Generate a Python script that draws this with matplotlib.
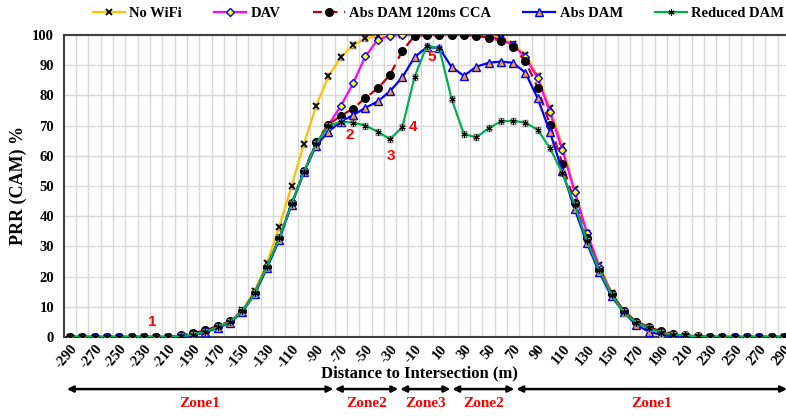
import numpy as np
import matplotlib.pyplot as plt
import matplotlib.transforms as mtransforms

# Distance categories (m)
dist = list(range(-290, 300, 10))

no_wifi = [0, 0, 0, 0, 0, 0, 0, 0, 0,
           0.4, 1.0, 1.8, 3.4, 5.1, 8.8, 15.2, 24.4, 36.5, 50.0, 63.9,
           76.5, 86.4, 92.6, 96.6, 98.9, 99.6, 100, 100, 100, 100,
           100, 100, 100, 100, 99.8, 99.0, 97.0, 93.5, 86.5, 75.8,
           63.4, 48.9, 34.3, 23.8, 14.7, 8.6, 5.1, 2.9, 1.6, 0.7,
           0.3, 0, 0, 0, 0, 0, 0, 0, 0]

dav = [0, 0, 0, 0, 0, 0, 0, 0, 0,
       0.3, 0.8, 1.7, 3.2, 4.9, 8.5, 14.5, 23.3, 32.7, 44.0, 54.7,
       64.2, 70.2, 76.5, 84.0, 93.0, 98.4, 99.8, 100, 100, 100,
       100, 100, 100, 99.9, 99.5, 98.6, 96.6, 92.6, 85.7, 74.4,
       62.0, 48.0, 34.5, 23.2, 14.3, 8.4, 4.9, 2.9, 1.5, 0.7,
       0.3, 0, 0, 0, 0, 0, 0, 0, 0]

abs_dam_cca = [0, 0, 0, 0, 0, 0, 0, 0, 0,
               0.5, 1.2, 2.2, 3.6, 5.2, 8.6, 14.6, 23.3, 32.7, 44.2, 54.8,
               64.7, 70.3, 73.3, 75.6, 79.2, 82.3, 86.8, 94.8, 99.7, 100,
               100, 100, 100, 99.8, 99.1, 98.1, 96.1, 91.3, 82.5, 70.2,
               57.4, 44.3, 32.7, 22.2, 14.2, 8.6, 5.1, 3.3, 1.9, 1.1,
               0.5, 0.2, 0, 0, 0, 0, 0, 0, 0]

abs_dam = [0, 0, 0, 0, 0, 0, 0, 0, 0,
           0.2, 0.6, 1.5, 3.0, 4.7, 8.3, 14.2, 22.8, 32.2, 43.8, 54.5,
           63.4, 68.0, 71.3, 73.5, 75.9, 78.0, 81.4, 86.0, 92.7, 96.0,
           95.7, 89.4, 86.5, 89.5, 90.8, 91.2, 90.8, 87.5, 79.0, 67.8,
           54.8, 42.4, 31.0, 21.4, 13.4, 8.1, 4.0, 1.8, 0.7, 0.2,
           0, 0, 0, 0, 0, 0, 0, 0, 0]

reduced_dam = [0, 0, 0, 0, 0, 0, 0, 0, 0,
               0.3, 0.8, 1.7, 3.2, 5.0, 8.5, 14.5, 23.3, 32.7, 44.0, 54.7,
               64.0, 69.9, 71.3, 71.0, 70.0, 68.0, 65.5, 69.5, 86.2, 96.5,
               95.6, 78.9, 67.2, 66.1, 69.1, 71.4, 71.6, 71.0, 68.6, 62.5,
               54.2, 43.8, 31.8, 22.2, 13.9, 8.1, 4.7, 2.9, 1.4, 0.8,
               0.5, 0.2, 0, 0, 0, 0, 0, 0, 0]

# numbered points of interest
marks = ['1', '2', '3', '4', '5']
mark_x = [-223, -63, -29, -11, 3.5]
mark_y = [5, 67, 60, 69.5, 92.7]

# zones along the road
zone_names = ['Zone1', 'Zone2', 'Zone3', 'Zone2', 'Zone1']
zone_start = [-292.5, -74.8, -21.7, 20.6, 72.6]
zone_end = [-76.0, -23.3, 19.0, 71.0, 292.5]

serif = 'Liberation Serif'
plt.rcParams['font.family'] = serif
plt.rcParams['font.weight'] = 'bold'

fig = plt.figure(figsize=(7.86, 4.17), dpi=100)
ax = fig.add_axes([0.0812, 0.192, 0.924, 0.724])

x = np.array(dist)
err = 1.0  # small std error bars shown in the original

def caps(vals):
    v = np.array(vals, dtype=float)
    return np.where((v > 0) & (v < 100), err, 0.0)

ax.errorbar(x, no_wifi, yerr=caps(no_wifi), fmt='none', ecolor='#8c8c8c',
            elinewidth=0.8, capsize=2, zorder=2)
ax.plot(x, no_wifi, color='#FFC000', lw=1.6, marker='x', ms=4.5, mec='black',
        mew=1.3, label='No WiFi', zorder=3)
ax.plot(x, dav, color='#FF00FF', lw=1.6, marker='D', ms=4.5, mfc='#FFFF00',
        mec='#0000FF', mew=1.0, label='DAV', zorder=4)
ax.plot(x, abs_dam_cca, color='#C00000', lw=1.6, ls=(0, (4, 3)), marker='o',
        ms=5.5, mfc='black', mec='black', label='Abs DAM 120ms CCA', zorder=5)
ax.plot(x, abs_dam, color='#0000FF', lw=1.6, marker='^', ms=5.5, mfc='#F0A020',
        mec='#0000FF', mew=1.0, label='Abs DAM', zorder=6)
ax.errorbar(x, reduced_dam, yerr=caps(reduced_dam), fmt='none', ecolor='#8c8c8c',
            elinewidth=0.8, capsize=2, zorder=6)
ax.plot(x, reduced_dam, color='#00B050', lw=1.6, marker=(6, 2, 0), ms=4.5,
        mec='black', mew=0.8, label='Reduced DAM', zorder=7)

for t, tx, ty in zip(marks, mark_x, mark_y):
    ax.text(tx, ty, t, color='#FF0000', fontsize=11, fontweight='bold',
            family='Liberation Sans', ha='center', va='center', zorder=8)

ax.set_xlim(-295, 295)
ax.set_ylim(0, 100)
ax.set_yticks(range(0, 101, 10))
ax.set_xticks(dist[::2])
ax.set_xticklabels([str(v) for v in dist[::2]], rotation=50, ha='right',
                   rotation_mode='anchor', fontsize=10.5)
ax.set_xticks(np.arange(-285, 290, 10), minor=True)
ax.tick_params(axis='both', which='both', length=0)
ax.tick_params(axis='x', pad=4)
ax.tick_params(axis='y', pad=7, labelsize=10.5)
ax.grid(True, which='minor', axis='x', color='#D9D9D9', lw=1.0)
ax.grid(True, which='major', axis='y', color='#D9D9D9', lw=1.0)
ax.set_axisbelow(True)
for s in ax.spines.values():
    s.set_color('#404040')
    s.set_linewidth(1.5)

fig.text(0.534, 0.105, 'Distance to Intersection (m)', ha='center', va='center',
         fontsize=12, fontweight='bold')
fig.text(0.023, 0.556, 'PRR (CAM) %', ha='center', va='center', rotation=90,
         fontsize=13, fontweight='bold')

fig.legend(loc='upper center', bbox_to_anchor=(0.558, 1.015), ncol=5,
           frameon=False, fontsize=10.5, handlelength=2.2, handletextpad=0.3,
           columnspacing=2.2)

# zone arrows below the axis
trans = mtransforms.blended_transform_factory(ax.transData, fig.transFigure)
for name, x0, x1 in zip(zone_names, zone_start, zone_end):
    ax.annotate('', xy=(x1, 0.067), xytext=(x0, 0.067), xycoords=trans,
                textcoords=trans, annotation_clip=False,
                arrowprops=dict(arrowstyle='<|-|>', color='black', lw=1.8,
                                mutation_scale=9, shrinkA=0, shrinkB=0))
    ax.text((x0 + x1) / 2, 0.032, name, transform=trans, color='#FF0000',
            fontsize=11, fontweight='bold', ha='center', va='center')

fig.savefig('out.png', dpi=100)
